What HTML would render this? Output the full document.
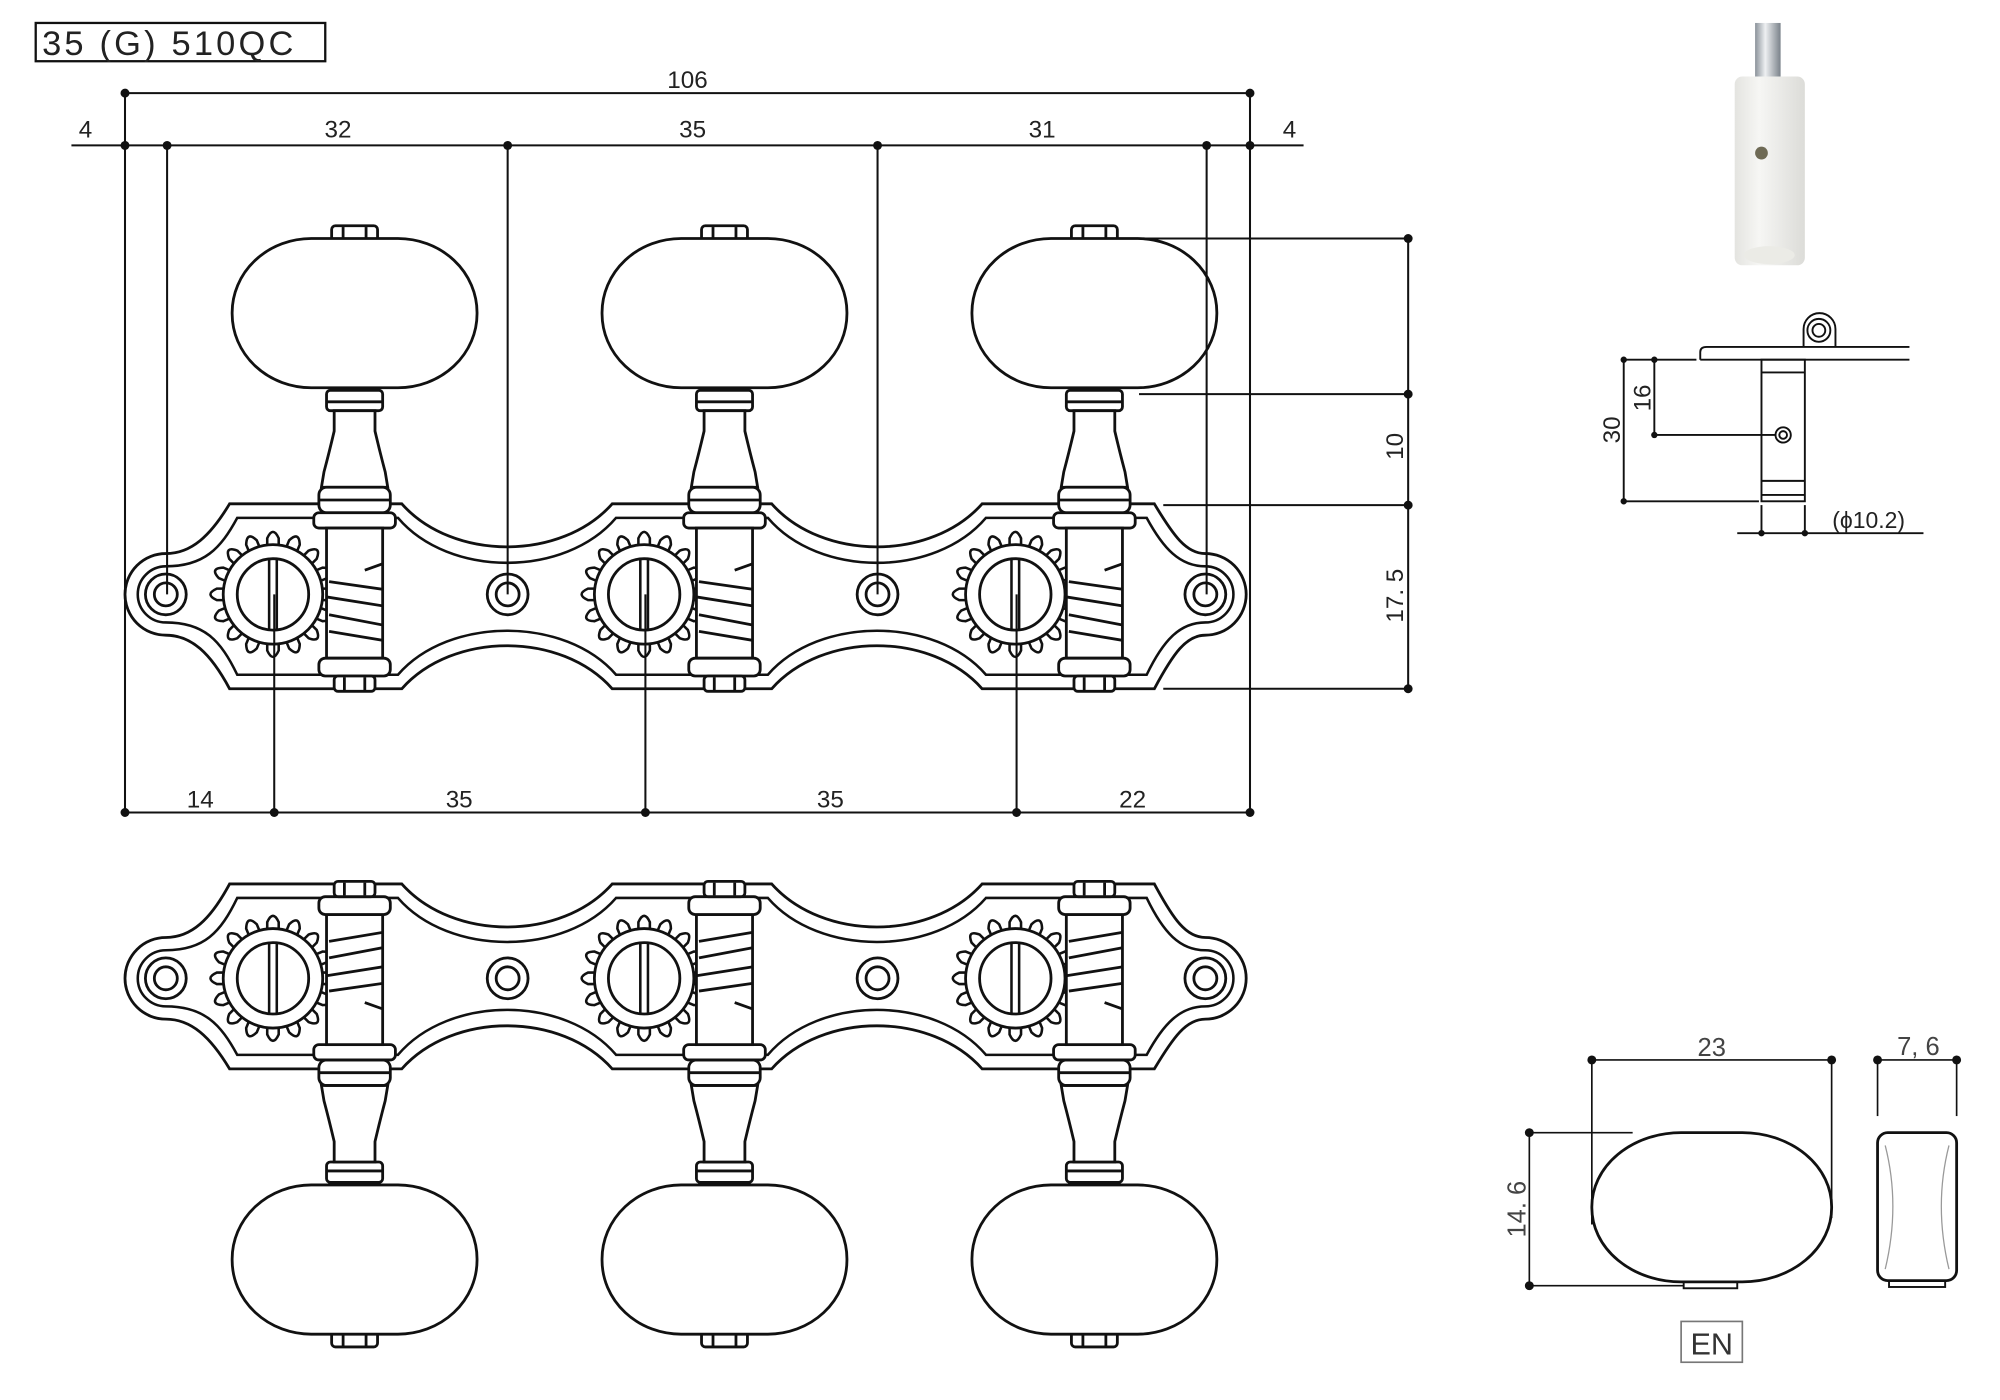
<!DOCTYPE html>
<html><head><meta charset="utf-8"><style>
html,body{margin:0;padding:0;background:#fff;width:2000px;height:1400px;overflow:hidden}
svg{display:block}
text{font-family:"Liberation Sans",sans-serif;fill:#222}
</style></head><body>
<svg width="2000" height="1400" viewBox="0 0 1568 1097.6" preserveAspectRatio="none" xmlns="http://www.w3.org/2000/svg">
<defs>
<g id="tooth"><path d="M -4.5 -37 L -4.5 -44 Q 0 -54 4.5 -44 L 4.5 -37" fill="#fff" stroke="#111" stroke-width="2"/></g>
<g id="gear">
<use href="#tooth" transform="rotate(0)"/><use href="#tooth" transform="rotate(22.5)"/><use href="#tooth" transform="rotate(45)"/><use href="#tooth" transform="rotate(67.5)"/>
<use href="#tooth" transform="rotate(90)"/><use href="#tooth" transform="rotate(112.5)"/><use href="#tooth" transform="rotate(135)"/><use href="#tooth" transform="rotate(157.5)"/>
<use href="#tooth" transform="rotate(180)"/><use href="#tooth" transform="rotate(202.5)"/><use href="#tooth" transform="rotate(225)"/><use href="#tooth" transform="rotate(247.5)"/>
<use href="#tooth" transform="rotate(270)"/><use href="#tooth" transform="rotate(292.5)"/><use href="#tooth" transform="rotate(315)"/><use href="#tooth" transform="rotate(337.5)"/>
<circle r="39" fill="#fff" stroke="#111" stroke-width="2.2"/>
<circle r="28" fill="none" stroke="#111" stroke-width="2.2"/>
<line x1="-3" y1="-28" x2="-3" y2="28" stroke="#111" stroke-width="2"/>
<line x1="3" y1="-28" x2="3" y2="28" stroke="#111" stroke-width="2"/>
</g>
<g id="tuner" fill="#fff" stroke="#111" stroke-width="2.2">
<rect x="-18" y="177" width="36" height="12" rx="3"/>
<line x1="-9" y1="178" x2="-9" y2="188"/><line x1="9" y1="178" x2="9" y2="188"/>
<rect x="-96" y="187" width="192" height="117" rx="62" ry="58"/>
<rect x="-22" y="306" width="44" height="16" rx="3"/>
<line x1="-22" y1="315" x2="22" y2="315"/>
<path d="M -16 322 L -16 338 Q -20 355 -24 370 L -26 382 L 26 382 L 24 370 Q 20 355 16 338 L 16 322 Z"/>
<rect x="-28" y="382" width="56" height="20" rx="6"/>
<line x1="-28" y1="392" x2="28" y2="392"/>
<rect x="-32" y="402" width="64" height="12" rx="4"/>
<rect x="-22" y="414" width="44" height="102"/>
<path d="M 8 447 L 22 442 M -20 456 L 22 462 M -22 468 L 22 475 M -20 482 L 22 490 M -20 495 L 22 502" fill="none"/>
<rect x="-28" y="516" width="56" height="14" rx="5"/>
<rect x="-16" y="530" width="32" height="12" rx="3"/>
<line x1="-8" y1="531" x2="-8" y2="541"/><line x1="8" y1="531" x2="8" y2="541"/>
</g>
<g id="hole"><circle r="16" fill="#fff" stroke="#111" stroke-width="2.2"/><circle r="9" fill="none" stroke="#111" stroke-width="2.2"/></g>
<g id="assembly">
<path d="M 180 395 L 315 395 C 355 440 440 440 480 395 L 605 395 C 645 440 730 440 770 395 L 905 395 C 920 420 930 434 945 434 A 32 32 0 0 1 945 498 C 930 498 920 512 905 540 L 770 540 C 730 495 645 495 605 540 L 480 540 C 440 495 355 495 315 540 L 180 540 C 165 512 150 498 130 498 A 32 32 0 0 1 130 434 C 150 434 165 420 180 395 Z" fill="#fff" stroke="#111" stroke-width="2.2"/>
<path d="M 186 406 L 312 406 C 352 453 443 453 483 406 L 602 406 C 642 453 733 453 773 406 L 899 406 C 912 430 925 444 945 444 A 22 22 0 0 1 945 488 C 925 488 912 502 899 529 L 773 529 C 733 483 642 483 602 529 L 483 529 C 443 483 352 483 312 529 L 186 529 C 173 502 160 488 130 488 A 22 22 0 0 1 130 444 C 160 444 173 430 186 406 Z" fill="none" stroke="#111" stroke-width="2"/>
<use href="#hole" x="130" y="466"/><use href="#hole" x="398" y="466"/><use href="#hole" x="688" y="466"/><use href="#hole" x="945" y="466"/>
<use href="#gear" x="214" y="466"/><use href="#gear" x="505" y="466"/><use href="#gear" x="796" y="466"/>
<use href="#tuner" x="278"/><use href="#tuner" x="568"/><use href="#tuner" x="858"/>
</g>
</defs>

<rect x="28" y="18" width="227" height="30" fill="none" stroke="#111" stroke-width="1.8"/>
<text x="33" y="43" font-size="27" letter-spacing="2.5">35 (G) 510QC</text>

<use href="#assembly"/>
<use href="#assembly" transform="matrix(1,0,0,-1,0,1233)"/>

<g stroke="#111" stroke-width="1.6" fill="none">
<line x1="98" y1="73" x2="980" y2="73"/>
<line x1="56" y1="114" x2="1022" y2="114"/>
<line x1="98" y1="73" x2="98" y2="637"/>
<line x1="980" y1="73" x2="980" y2="637"/>
<line x1="131" y1="114" x2="131" y2="466"/>
<line x1="398" y1="114" x2="398" y2="466"/>
<line x1="688" y1="114" x2="688" y2="466"/>
<line x1="946" y1="114" x2="946" y2="466"/>
<line x1="98" y1="637" x2="980" y2="637"/>
<line x1="215" y1="466" x2="215" y2="637"/>
<line x1="506" y1="466" x2="506" y2="637"/>
<line x1="797" y1="466" x2="797" y2="637"/>
<line x1="1104" y1="187" x2="1104" y2="540"/>
<line x1="880" y1="187" x2="1104" y2="187"/>
<line x1="893" y1="309" x2="1104" y2="309"/>
<line x1="912" y1="396" x2="1104" y2="396"/>
<line x1="912" y1="540" x2="1104" y2="540"/>
</g>
<g fill="#111">
<circle cx="98" cy="73" r="3.5"/><circle cx="980" cy="73" r="3.5"/>
<circle cx="98" cy="114" r="3.5"/><circle cx="131" cy="114" r="3.5"/><circle cx="398" cy="114" r="3.5"/><circle cx="688" cy="114" r="3.5"/><circle cx="946" cy="114" r="3.5"/><circle cx="980" cy="114" r="3.5"/>
<circle cx="98" cy="637" r="3.5"/><circle cx="215" cy="637" r="3.5"/><circle cx="506" cy="637" r="3.5"/><circle cx="797" cy="637" r="3.5"/><circle cx="980" cy="637" r="3.5"/>
<circle cx="1104" cy="187" r="3.5"/><circle cx="1104" cy="309" r="3.5"/><circle cx="1104" cy="396" r="3.5"/><circle cx="1104" cy="540" r="3.5"/>
</g>
<g font-size="19" text-anchor="middle">
<text x="539" y="69">106</text>
<text x="67" y="108">4</text><text x="265" y="108">32</text><text x="543" y="108">35</text><text x="817" y="108">31</text><text x="1011" y="108">4</text>
<text x="157" y="633">14</text><text x="360" y="633">35</text><text x="651" y="633">35</text><text x="888" y="633">22</text>
<text transform="translate(1100,350) rotate(-90)">10</text>
<text transform="translate(1100,467) rotate(-90)">17. 5</text>
</g>

<defs>
<linearGradient id="cyl" x1="0" x2="1"><stop offset="0" stop-color="#e4e4e0"/><stop offset="0.35" stop-color="#f6f6f4"/><stop offset="1" stop-color="#dcdcd8"/></linearGradient>
<linearGradient id="met" x1="0" x2="1"><stop offset="0" stop-color="#8a929a"/><stop offset="0.4" stop-color="#eef0f2"/><stop offset="1" stop-color="#7a828a"/></linearGradient>
</defs>
<rect x="1376" y="18" width="20" height="44" fill="url(#met)"/>
<rect x="1360" y="60" width="55" height="148" rx="6" fill="url(#cyl)"/>
<ellipse cx="1387" cy="200" rx="20" ry="7" fill="#ebebe6"/>
<circle cx="1381" cy="120" r="5" fill="#6e6a55"/>

<g stroke="#111" stroke-width="1.5" fill="none">
<path d="M 1333 282 L 1333 276 Q 1333 272 1338 272 L 1497 272"/>
<line x1="1333" y1="282" x2="1497" y2="282"/>
<path d="M 1414 272 L 1414 258 A 12 12 0 0 1 1439 258 L 1439 272"/>
<circle cx="1426" cy="259" r="9"/><circle cx="1426" cy="259" r="5"/>
<rect x="1381" y="282" width="34" height="111"/>
<line x1="1381" y1="292" x2="1415" y2="292"/>
<line x1="1381" y1="377" x2="1415" y2="377"/>
<line x1="1381" y1="388" x2="1415" y2="388"/>
<circle cx="1398" cy="341" r="6"/><circle cx="1398" cy="341" r="3"/>
<line x1="1273" y1="282" x2="1330" y2="282"/>
<line x1="1273" y1="282" x2="1273" y2="393"/>
<line x1="1273" y1="393" x2="1379" y2="393"/>
<line x1="1297" y1="282" x2="1297" y2="341"/>
<line x1="1297" y1="341" x2="1392" y2="341"/>
<line x1="1381" y1="396" x2="1381" y2="418"/>
<line x1="1415" y1="396" x2="1415" y2="418"/>
<line x1="1362" y1="418" x2="1508" y2="418"/>
</g>
<g fill="#111">
<circle cx="1273" cy="282" r="2.5"/><circle cx="1297" cy="282" r="2.5"/><circle cx="1297" cy="341" r="2.5"/><circle cx="1273" cy="393" r="2.5"/>
<circle cx="1381" cy="418" r="2.5"/><circle cx="1415" cy="418" r="2.5"/>
</g>
<g font-size="19" text-anchor="middle">
<text transform="translate(1270,337) rotate(-90)">30</text>
<text transform="translate(1294,312) rotate(-90)">16</text>
<text x="1465" y="414" font-size="18">(ϕ10.2)</text>
</g>

<g stroke="#111" fill="none">
<rect x="1248" y="888" width="188" height="117" rx="70" ry="58" stroke-width="2.2"/>
<rect x="1320" y="1005" width="42" height="5" stroke-width="1.5"/>
<rect x="1472" y="888" width="62" height="116" rx="8" stroke-width="2.2"/>
<rect x="1481" y="1004" width="44" height="5" stroke-width="1.5"/>
<path d="M 1478 898 Q 1490 945 1478 995 M 1528 898 Q 1516 945 1528 995" stroke="#999" stroke-width="1"/>
<g stroke-width="1.3">
<line x1="1248" y1="831" x2="1436" y2="831"/>
<line x1="1248" y1="831" x2="1248" y2="960"/>
<line x1="1436" y1="831" x2="1436" y2="955"/>
<line x1="1199" y1="888" x2="1280" y2="888"/>
<line x1="1199" y1="1008" x2="1320" y2="1008"/>
<line x1="1199" y1="888" x2="1199" y2="1008"/>
<line x1="1472" y1="831" x2="1534" y2="831"/>
<line x1="1472" y1="831" x2="1472" y2="875"/>
<line x1="1534" y1="831" x2="1534" y2="875"/>
</g>
<rect x="1318" y="1036" width="48" height="32" stroke="#777" stroke-width="1.3"/>
</g>
<g fill="#111">
<circle cx="1248" cy="831" r="3.5"/><circle cx="1436" cy="831" r="3.5"/>
<circle cx="1199" cy="888" r="3.5"/><circle cx="1199" cy="1008" r="3.5"/>
<circle cx="1472" cy="831" r="3.5"/><circle cx="1534" cy="831" r="3.5"/>
</g>
<g font-size="20" text-anchor="middle">
<text x="1342" y="828" style="fill:#444">23</text>
<text x="1504" y="827" style="fill:#444">7, 6</text>
<text transform="translate(1196,948) rotate(-90)" style="fill:#444">14. 6</text>
<text x="1342" y="1062" font-size="24" style="fill:#333">EN</text>
</g>
</svg>
</body></html>
